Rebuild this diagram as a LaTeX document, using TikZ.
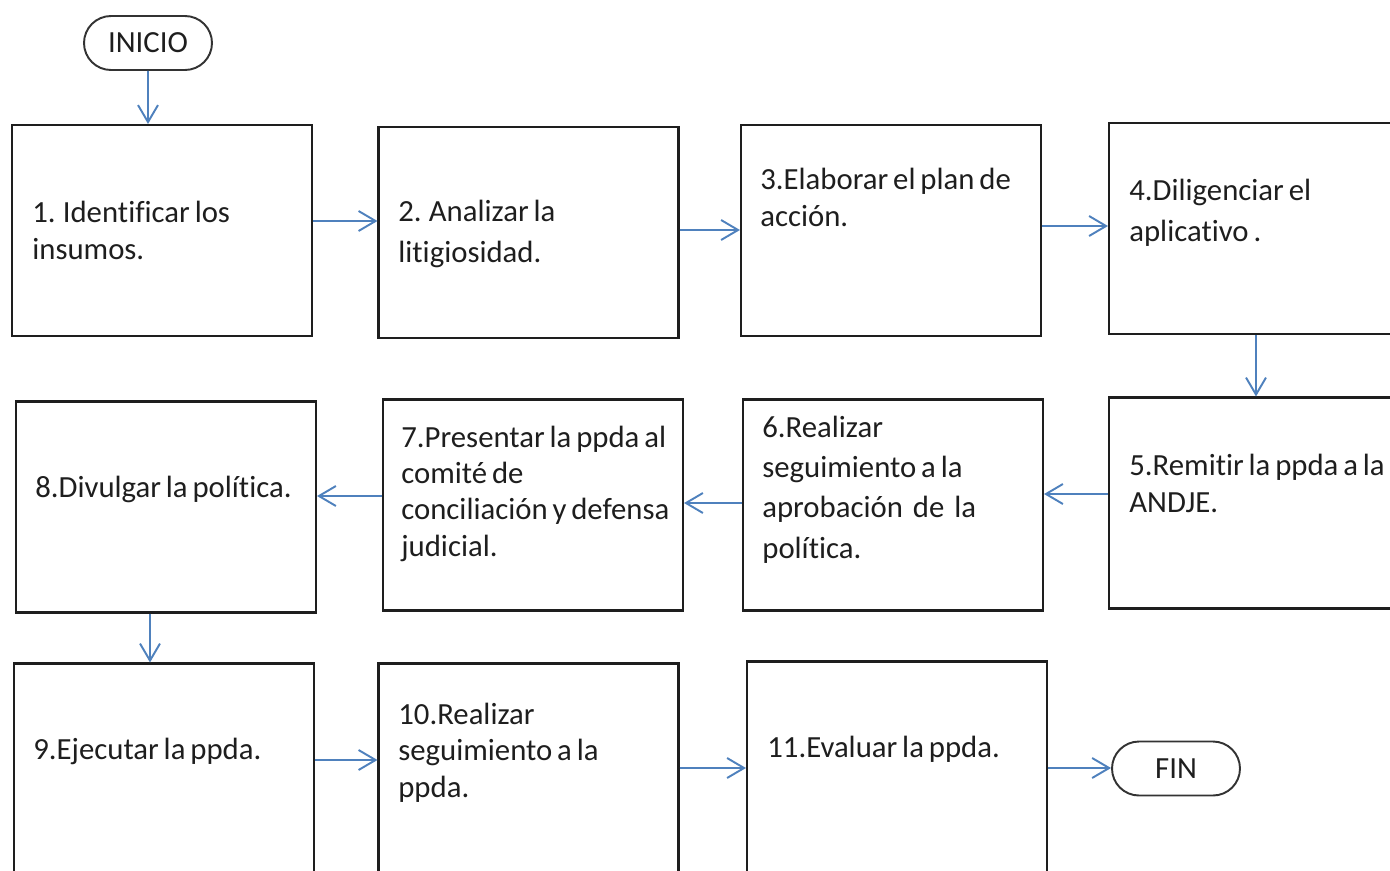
\documentclass[tikz,border=0pt]{standalone}
\usepackage{fontspec}
\setmainfont{Carlito}[WordSpace=0.7, Ligatures=NoCommon]
\definecolor{ln}{RGB}{79,129,189}
\definecolor{tx}{RGB}{30,30,30}
\usetikzlibrary{arrows.meta, shapes.misc}

\begin{document}
\begin{tikzpicture}[x=0.02cm, y=-0.02cm,
                    every node/.style = {text=tx, font=\fontsize{17.5}{20.5}\selectfont},
                    box/.style = {draw=tx, line width=1.2pt, minimum width=6cm, minimum height=4.22cm, inner sep=0pt},
                    term/.style = {rounded rectangle, draw=black!80, line width=1.1pt, minimum width=2.56cm, minimum height=1.08cm, inner sep=0pt},
                    txt/.style = {anchor=base west, align=left, inner sep=0pt},
                    wide/.style = {font=\fontsize{17.5}{22.8}\selectfont},
                    every edge/.style = {draw, ln, line width=1.1pt, -{Straight Barb[length=3.4mm, width=4mm]}}]
            \useasboundingbox (0,0) rectangle (1390,870);
            \clip (0,0) rectangle (1390,870);

            \node (ini) [term] at (148,43) {INICIO};

            \node (b1) [box] at (162,230.5) {};
            \node (b2) [box] at (528.5,232.5) {};
            \node (b3) [box] at (891,230.5) {};
            \node (b4) [box] at (1259,228.5) {};
            \node (b5) [box] at (1259,503) {};
            \node (b6) [box] at (893,505) {};
            \node (b7) [box] at (533,505) {};
            \node (b8) [box] at (166,507) {};
            \node (b9) [box] at (164,769) {};
            \node (b10) [box] at (528.5,769) {};
            \node (b11) [box] at (897,767) {};

            \node (fin) [term] at (1176,768.5) {FIN};

            \node (t1) [txt] at (32,259) {1. Identificar los\\insumos.};
            \node (t2) [txt, wide] at (398,262) {2. Analizar la\\litigiosidad.};
            \node (t3) [txt] at (760,226) {3.Elaborar el plan de\\acción.};
            \node (t4) [txt, wide] at (1129,241) {4.Diligenciar el\\aplicativo .};
            \node (t5) [txt] at (1129,512) {5.Remitir la ppda a la\\ANDJE.};
            \node (t6) [txt, wide] at (762,558) {6.Realizar\\seguimiento a la\\aprobación\, de\, la\\política.};
            \node (t7) [txt] at (401,556) {7.Presentar la ppda al\\comité de\\conciliación y defensa\\judicial.};
            \node (t8) [txt] at (35,497) {8.Divulgar la política.};
            \node (t9) [txt] at (33,759) {9.Ejecutar la ppda.};
            \node (t10) [txt] at (398,797) {10.Realizar\\seguimiento a la\\ppda.};
            \node (t11) [txt] at (767,757) {11.Evaluar la ppda.};

            \draw (ini) edge (ini |- b1.north);
            \draw (b1.east |- 0,221) edge (b2.west |- 0,221);
            \draw (b2.east |- 0,230) edge (b3.west |- 0,230);
            \draw (b3.east |- 0,226) edge (b4.west |- 0,226);
            \draw (b4.south -| 1256,0) edge (b5.north -| 1256,0);
            \draw (b5.west |- 0,494) edge (b6.east |- 0,494);
            \draw (b6.west |- 0,503) edge (b7.east |- 0,503);
            \draw (b7.west |- 0,496) edge (b8.east |- 0,496);
            \draw (b8.south -| 150,0) edge (b9.north -| 150,0);
            \draw (b9.east |- 0,760) edge (b10.west |- 0,760);
            \draw (b10.east |- 0,768) edge (b11.west |- 0,768);
            \draw (b11.east |- 0,768) edge (fin.west |- 0,768);
\end{tikzpicture}
\end{document}
